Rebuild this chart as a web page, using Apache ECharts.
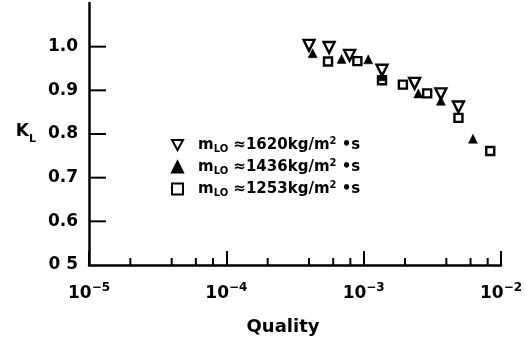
<!DOCTYPE html>
<html>
<head>
<meta charset="utf-8">
<script src="https://cdn.jsdelivr.net/npm/echarts@6/dist/echarts.min.js"></script>
<style>
html, body { margin: 0; padding: 0; background: #fff; }
#chart { width: 526px; height: 344px; }
</style>
</head>
<body>
<div id="chart"></div>
<script>
// mass flux groups (kg/m2 s)
var fluxes = ['1620', '1436', '1253'];

// quality (x) and K_L (y) per group
var quality1620 = [4.0e-4, 5.6e-4, 7.9e-4, 1.36e-3, 2.35e-3, 3.65e-3, 4.9e-3];
var kl1620      = [1.003, 0.998, 0.980, 0.946, 0.916, 0.892, 0.862];
var quality1436 = [4.25e-4, 6.9e-4, 1.08e-3, 1.36e-3, 2.5e-3, 3.65e-3, 6.25e-3];
var kl1436      = [0.985, 0.972, 0.971, 0.932, 0.893, 0.876, 0.789];
var quality1253 = [5.5e-4, 9.0e-4, 1.36e-3, 1.93e-3, 2.9e-3, 4.9e-3, 8.35e-3];
var kl1253      = [0.966, 0.967, 0.923, 0.913, 0.893, 0.837, 0.761];

// axis ticks
var yLabels = ['0 5', '0.6', '0.7', '0.8', '0.9', '1.0'];
var yTickValues = [0.6, 0.7, 0.8, 0.9, 1.0];
var minorTicks = [2e-5, 4e-5, 6e-5, 8e-5, 2e-4, 4e-4, 6e-4, 8e-4, 2e-3, 4e-3, 6e-3, 8e-3];

var FONT = 'DejaVu Sans';
var X_MIN = 1e-5, Y_MIN = 0.5;

function pairs(xs, ys) {
    return xs.map(function (x, i) { return [x, ys[i]]; });
}

// short tick strokes drawn from the axis line, dx/dy is the direction
function tickSeries(data, dx, dy) {
    return {
        type: 'custom',
        silent: true,
        data: data,
        renderItem: function (params, api) {
            var p = api.coord([api.value(0), api.value(1)]);
            return {
                type: 'line',
                shape: { x1: p[0], y1: p[1], x2: p[0] + dx, y2: p[1] + dy },
                style: { stroke: '#000', lineWidth: 2 }
            };
        },
        z: 3
    };
}

var chart = echarts.init(document.getElementById('chart'), null, { renderer: 'canvas' });

var option = {
    backgroundColor: '#fff',
    animation: false,
    textStyle: { fontFamily: FONT, fontWeight: 'bold', color: '#000' },
    grid: { left: 89, right: 25, top: 3, bottom: 79 },
    legend: {
        data: [
            { name: '1620', icon: 'path://M0,0L12,0L6,11Z' },
            { name: '1436' },
            { name: '1253' }
        ],
        orient: 'vertical',
        left: 166,
        top: 131,
        itemWidth: 11,
        itemHeight: 11,
        itemGap: 4,
        symbolRotate: 0,
        formatter: function (name) {
            return '{m|m}{sub|LO}{t| \u2248' + name + 'kg/m}{sup|2}{t| \u2022s}';
        },
        textStyle: {
            rich: {
                m: { fontFamily: FONT, fontWeight: 'bold', fontSize: 15, color: '#000', lineHeight: 18, verticalAlign: 'middle', padding: [0, 0, 0, 10] },
                sub: { fontFamily: FONT, fontWeight: 'bold', fontSize: 10, color: '#000', lineHeight: 10, verticalAlign: 'bottom' },
                t: { fontFamily: FONT, fontWeight: 'bold', fontSize: 15, color: '#000', lineHeight: 18, verticalAlign: 'middle' },
                sup: { fontFamily: FONT, fontWeight: 'bold', fontSize: 10, color: '#000', lineHeight: 10, verticalAlign: 'top' }
            }
        }
    },
    xAxis: {
        type: 'log',
        logBase: 10,
        min: X_MIN,
        max: 1e-2,
        name: 'Quality',
        nameLocation: 'middle',
        nameGap: 53,
        nameTextStyle: { fontFamily: FONT, fontWeight: 'bold', fontSize: 18, color: '#000', padding: [0, 24, 0, 0] },
        splitLine: { show: false },
        axisLine: { lineStyle: { color: '#000', width: 2.5 } },
        axisTick: { inside: true, length: 14, lineStyle: { color: '#000', width: 2 } },
        axisLabel: {
            margin: 17,
            formatter: function (v) {
                var e = Math.round(Math.log(v) / Math.LN10);
                return '{b|10}{s|\u2212' + Math.abs(e) + '}';
            },
            rich: {
                b: { fontFamily: FONT, fontWeight: 'bold', fontSize: 17, color: '#000', lineHeight: 20, verticalAlign: 'bottom' },
                s: { fontFamily: FONT, fontWeight: 'bold', fontSize: 12, color: '#000', lineHeight: 20, verticalAlign: 'top' }
            }
        }
    },
    yAxis: {
        type: 'value',
        min: Y_MIN,
        max: 1.1,
        interval: 0.1,
        name: '{k|K}{l|L}',
        nameLocation: 'middle',
        nameRotate: 0,
        nameGap: 53,
        nameTextStyle: {
            rich: {
                k: { fontFamily: FONT, fontWeight: 'bold', fontSize: 17, color: '#000', lineHeight: 22, verticalAlign: 'top' },
                l: { fontFamily: FONT, fontWeight: 'bold', fontSize: 11, color: '#000', lineHeight: 22, verticalAlign: 'bottom' }
            }
        },
        splitLine: { show: false },
        axisLine: { lineStyle: { color: '#000', width: 2.5 } },
        axisTick: { show: false },
        axisLabel: {
            margin: 11,
            fontFamily: FONT,
            fontWeight: 'bold',
            fontSize: 17,
            color: '#000',
            formatter: function (v) {
                var i = Math.round((v - Y_MIN) * 10);
                return i < yLabels.length ? yLabels[i] : '';
            }
        }
    },
    series: [
        {
            name: '1620',
            type: 'scatter',
            data: pairs(quality1620, kl1620),
            symbol: 'triangle',
            symbolRotate: 180,
            symbolSize: 11,
            itemStyle: { color: '#fff', borderColor: '#000', borderWidth: 2.4, opacity: 1 },
            z: 4
        },
        {
            name: '1436',
            type: 'scatter',
            data: pairs(quality1436, kl1436),
            symbol: 'triangle',
            symbolSize: 9,
            itemStyle: { color: '#000', borderColor: '#000', borderWidth: 0.5, opacity: 1 },
            z: 5
        },
        {
            name: '1253',
            type: 'scatter',
            data: pairs(quality1253, kl1253),
            symbol: 'rect',
            symbolSize: 8,
            itemStyle: { color: '#fff', borderColor: '#000', borderWidth: 2.4, opacity: 1 },
            z: 4
        },
        tickSeries(minorTicks.map(function (q) { return [q, Y_MIN]; }), 0, -7),
        tickSeries(yTickValues.map(function (v) { return [X_MIN, v]; }), 17, 0)
    ]
};

chart.setOption(option);
</script>
</body>
</html>
